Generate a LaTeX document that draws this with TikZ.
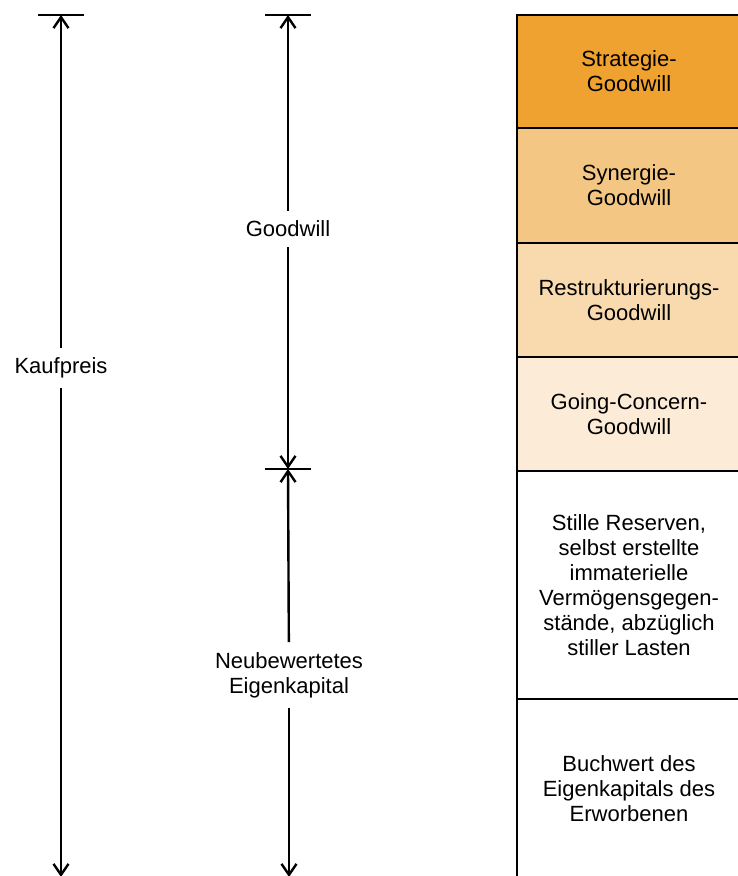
\documentclass[tikz,border=0pt]{standalone}
\usepackage{fontspec}
\setmainfont{Liberation Sans}
\usetikzlibrary{arrows.meta}
\definecolor{cA}{HTML}{EFA22F}
\definecolor{cB}{HTML}{F4C683}
\definecolor{cC}{HTML}{F8DAAE}
\definecolor{cD}{HTML}{FCEBD6}
\begin{document}
\begin{tikzpicture}[x=1pt,y=-1pt,
  ln/.style={line width=2.6pt},
  arr/.style={line width=2.4pt, -{Straight Barb[length=11pt,width=15pt,line width=2.4pt]}},
  lbl/.style={font=\fontsize{22}{25}\selectfont, align=center, inner xsep=2pt, inner ysep=10pt},
  cell/.style={draw=black, line width=2.8pt, inner sep=0pt, minimum width=224pt,
    font=\fontsize{22}{25}\selectfont, align=center}
]
\useasboundingbox (0,0) rectangle (738,876);
\begin{scope}
\clip (0,0) rectangle (738,876);
% stacked boxes
\node[cell, fill=cA, minimum height=113pt] (b1) at (629,71.5) {Strategie-\\Goodwill};
\node[cell, fill=cB, minimum height=115pt] (b2) at (629,185.5) {Synergie-\\Goodwill};
\node[cell, fill=cC, minimum height=114pt] (b3) at (629,300) {Restrukturierungs-\\Goodwill};
\node[cell, fill=cD, minimum height=114pt] (b4) at (629,414) {Going-Concern-\\Goodwill};
\node[cell, fill=white, minimum height=228pt] (b5) at (629,585) {Stille Reserven,\\selbst erstellte\\immaterielle\\Verm\"ogensgegen-\\st\"ande, abz\"uglich\\stiller Lasten};
\node[cell, fill=white, minimum height=180pt] (b6) at (629,789) {Buchwert des\\Eigenkapitals des\\Erworbenen};
% Kaufpreis arrow
\coordinate (kt) at (61,15);
\coordinate (kb) at (61,877);
\node[lbl] (kp) at (61,368) {Kaufpreis};
\draw[arr] (kp) -- (kt);
\draw[arr] (kp) -- (kb);
\draw[ln] ([xshift=-23pt]kt) -- ([xshift=23pt]kt);
% Goodwill / Eigenkapital arrows
\coordinate (gt) at (288,15);
\coordinate (gm) at (288,469);
\coordinate (gb) at (289,877);
\node[lbl] (gw) at (288,229) {Goodwill};
\node[lbl] (ne) at (289,675) {Neubewertetes\\Eigenkapital};
\draw[arr] (gw) -- (gt);
\draw[arr] (gw) -- (gm);
\draw[arr] (ne) -- (gm);
\draw[arr] (ne) -- (gb);
\draw[ln] ([xshift=-23pt]gt) -- ([xshift=23pt]gt);
\draw[ln] ([xshift=-23pt]gm) -- ([xshift=23pt]gm);
\end{scope}
\end{tikzpicture}
\end{document}
